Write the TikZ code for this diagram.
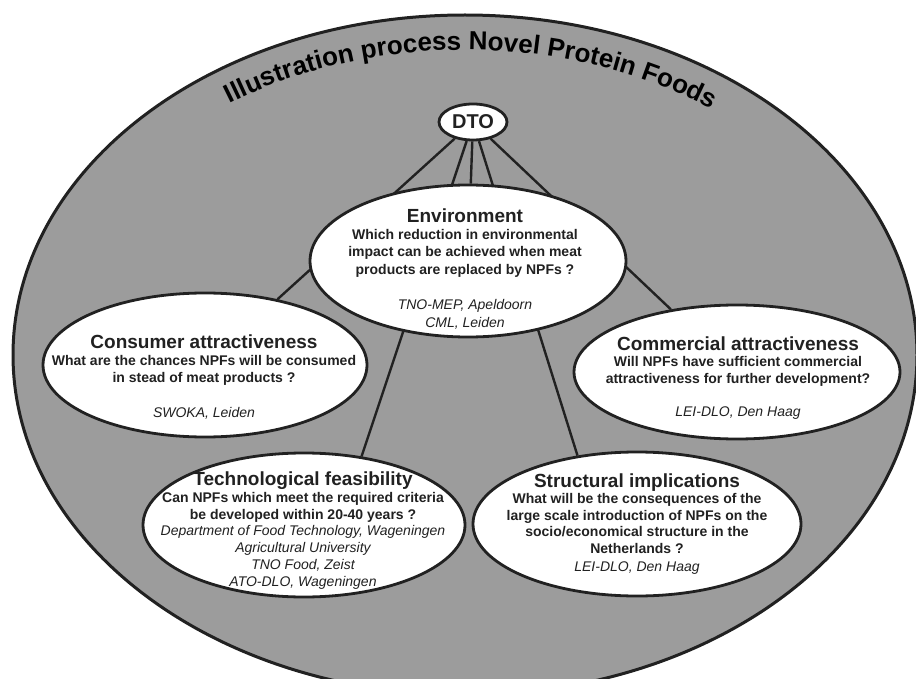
\documentclass[tikz,border=0pt]{standalone}
\usepackage{fontspec}
\setmainfont{Liberation Sans}
\usetikzlibrary{shapes.geometric,decorations.text}
\pgfdeclarelayer{bgl}
\pgfdeclarelayer{lnl}
\pgfsetlayers{bgl,lnl,main}
\newcommand\ttlfont{\fontsize{26}{30}\selectfont\bfseries}
\newcommand\hdfont{\fontsize{19}{22}\selectfont\bfseries}
\newcommand\bdfont{\fontsize{14}{17}\selectfont\bfseries}
\newcommand\crfont{\fontsize{14}{17}\selectfont\itshape}
\definecolor{halftone}{gray}{0.61}
\definecolor{ink}{gray}{0.13}
\begin{document}
\begin{tikzpicture}[x=1pt,y=-1pt,
  bubble/.style={ellipse, draw=ink, line width=2.8pt, fill=white, inner sep=0pt},
  conn/.style={draw=ink, line width=2.4pt},
  hd/.style={anchor=base, inner sep=0pt, font=\hdfont, text=ink},
  bd/.style={anchor=base, inner sep=0pt, font=\bdfont, text=ink},
  cr/.style={anchor=base, inner sep=0pt, font=\crfont, text=ink}]
\useasboundingbox (0,0) rectangle (916,679);
\begin{pgfonlayer}{bgl}
  \begin{scope}
    \clip (0,0) rectangle (916,679);
    \draw[draw=ink, line width=3pt, fill=halftone] (465,355) ellipse [x radius=452pt, y radius=340pt];
  \end{scope}
  \path[decorate, decoration={text along path, text={|\ttlfont|Illustration process Novel Protein Foods}, text align=center}]
    plot[smooth, domain=131:47, samples=60] ({465+416*cos(\x)},{355-305*sin(\x)});
\end{pgfonlayer}

% bubbles
\node[bubble, minimum width=68pt, minimum height=36pt, font=\fontsize{20}{24}\selectfont\bfseries, text=ink] (dto) at (473,122) {DTO};
\node[bubble, minimum width=316pt, minimum height=152pt] (env) at (468,261) {};
\node[bubble, minimum width=324pt, minimum height=144pt] (cons) at (205,365) {};
\node[bubble, minimum width=326pt, minimum height=134pt] (comm) at (737,372) {};
\node[bubble, minimum width=322pt, minimum height=144pt] (tech) at (304,525) {};
\node[bubble, minimum width=328pt, minimum height=144pt] (struct) at (637,524) {};

% connectors (behind bubbles)
\begin{pgfonlayer}{lnl}
  \draw[conn] (dto) -- (env);
  \draw[conn] (dto) -- (cons);
  \draw[conn] (dto) -- (comm);
  \draw[conn] (dto) -- (tech.50);
  \draw[conn] (dto) -- (struct.131);
\end{pgfonlayer}

% Environment
\node[hd] (envh) at (465,223) {Environment};
\node[bd] (envb1) at (465,240) {Which reduction in environmental};
\node[bd] (envb2) at (465,257) {impact can be achieved when meat};
\node[bd] (envb3) at (465,274) {products are replaced by NPFs ?};
\node[cr] (envc1) at (465,309) {TNO-MEP, Apeldoorn};
\node[cr] (envc2) at (465,327) {CML, Leiden};

% Consumer
\node[hd] (consh) at (204,348) {Consumer attractiveness};
\node[bd] (consb1) at (204,365) {What are the chances NPFs will be consumed};
\node[bd] (consb2) at (204,382) {in stead of meat products ?};
\node[cr] (consc1) at (204,417) {SWOKA, Leiden};

% Commercial
\node[hd] (commh) at (738,350) {Commercial attractiveness};
\node[bd] (commb1) at (738,366) {Will NPFs have sufficient commercial};
\node[bd] (commb2) at (738,383) {attractiveness for further development?};
\node[cr] (commc1) at (738,416) {LEI-DLO, Den Haag};

% Technological
\node[hd] (techh) at (303,485) {Technological feasibility};
\node[bd] (techb1) at (303,502) {Can NPFs which meet the required criteria};
\node[bd] (techb2) at (303,519) {be developed within 20-40 years ?};
\node[cr] (techc1) at (303,535) {Department of Food Technology, Wageningen};
\node[cr] (techc2) at (303,552) {Agricultural University};
\node[cr] (techc3) at (303,569) {TNO Food, Zeist};
\node[cr] (techc4) at (303,586) {ATO-DLO, Wageningen};

% Structural
\node[hd] (structh) at (637,487) {Structural implications};
\node[bd] (structb1) at (637,503) {What will be the consequences of the};
\node[bd] (structb2) at (637,520) {large scale introduction of NPFs on the};
\node[bd] (structb3) at (637,536) {socio/economical structure in the};
\node[bd] (structb4) at (637,553) {Netherlands ?};
\node[cr] (structc1) at (637,571) {LEI-DLO, Den Haag};
\end{tikzpicture}
\end{document}
